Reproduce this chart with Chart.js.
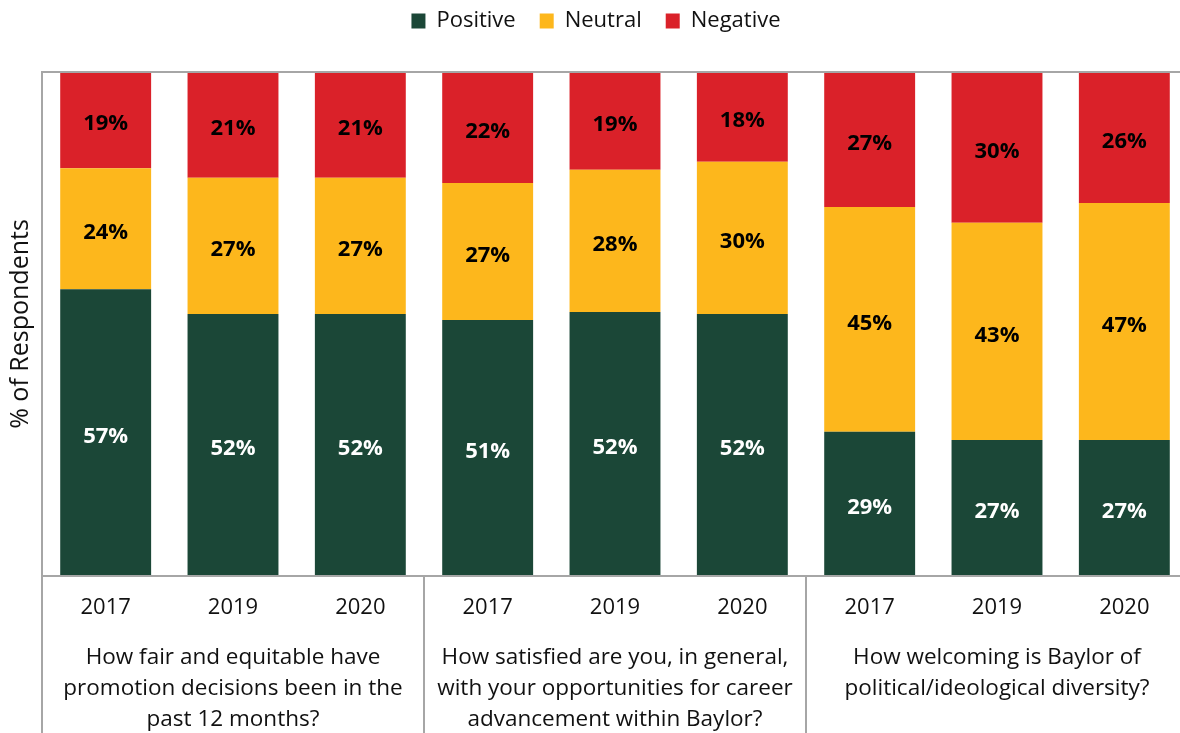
<!DOCTYPE html>
<html>
<head>
<meta charset="utf-8">
<script src="https://cdn.jsdelivr.net/npm/chart.js@4"></script>
<style>
html,body{margin:0;padding:0;overflow:hidden;background:#fff;}
#wrap{width:1190px;height:733px;position:relative;}
</style>
</head>
<body>
<div id="wrap"><canvas id="c"></canvas></div>
<script>
const categories = ['2017','2019','2020','2017','2019','2020','2017','2019','2020'];
const groupLabels = [
  ['How fair and equitable have','promotion decisions been in the','past 12 months?'],
  ['How satisfied are you, in general,','with your opportunities for career','advancement within Baylor?'],
  ['How welcoming is Baylor of','political/ideological diversity?']
];
const positive = [56.9, 52.0, 52.0, 50.8, 52.4, 52.0, 28.6, 27.0, 27.0];
const neutral  = [24.0, 27.0, 27.0, 27.2, 28.2, 30.2, 44.6, 43.1, 47.0];
const negative = [19.1, 21.0, 21.0, 22.0, 19.4, 17.8, 26.8, 29.9, 26.0];
const seriesNames = ['Positive','Neutral','Negative'];

const FONT = '"Open Sans", "Noto Sans", sans-serif';
const LINE = '#A6A6A6';

const legendHeight = {
  id: 'legendHeight',
  beforeInit(chart) {
    const lg = chart.legend;
    const origFit = lg.fit;
    lg.fit = function () { origFit.call(this); this.height = 72; };
    const origDraw = lg.draw;
    lg.draw = function () {
      const ctx = this.ctx;
      ctx.save();
      ctx.translate(2, -14);
      origDraw.apply(this, arguments);
      ctx.restore();
    };
  }
};

const decor = {
  id: 'decor',
  afterDatasetsDraw(chart) {
    const ctx = chart.ctx;
    ctx.save();
    ctx.font = 'bold 22px ' + FONT;
    ctx.textAlign = 'center';
    ctx.textBaseline = 'middle';
    chart.data.datasets.forEach((ds, di) => {
      const meta = chart.getDatasetMeta(di);
      meta.data.forEach((el, i) => {
        const cy = (el.y + el.base) / 2;
        ctx.fillStyle = di === 0 ? '#ffffff' : '#000000';
        ctx.fillText(Math.round(ds.data[i]) + '%', el.x, cy + 4);
      });
    });
    ctx.restore();
  },
  afterDraw(chart) {
    const ctx = chart.ctx, a = chart.chartArea, x = chart.scales.x;
    const H = chart.height;
    ctx.save();
    ctx.strokeStyle = LINE;
    ctx.lineWidth = 2;
    ctx.beginPath();
    ctx.moveTo(a.left, a.top); ctx.lineTo(a.right, a.top);
    ctx.moveTo(a.left, a.bottom); ctx.lineTo(a.right, a.bottom);
    ctx.moveTo(a.left, a.top - 1); ctx.lineTo(a.left, H);
    ctx.moveTo(a.right, a.top - 1); ctx.lineTo(a.right, H);
    [2, 5].forEach(i => {
      const sx = Math.round((x.getPixelForValue(i) + x.getPixelForValue(i + 1)) / 2);
      ctx.moveTo(sx, a.bottom); ctx.lineTo(sx, H);
    });
    ctx.stroke();
    ctx.fillStyle = '#111111';
    ctx.font = '22.5px ' + FONT;
    ctx.textAlign = 'center';
    ctx.textBaseline = 'middle';
    groupLabels.forEach((lines, g) => {
      const cx = (x.getPixelForValue(g * 3) + x.getPixelForValue(g * 3 + 2)) / 2;
      lines.forEach((t, k) => ctx.fillText(t, cx, 658 + k * 31));
    });
    ctx.restore();
  }
};

new Chart(document.getElementById('c'), {
  type: 'bar',
  data: {
    labels: categories,
    datasets: [
      { label: seriesNames[0], data: positive, backgroundColor: '#1B4737' },
      { label: seriesNames[1], data: neutral,  backgroundColor: '#FDB71C' },
      { label: seriesNames[2], data: negative, backgroundColor: '#DA2129' }
    ]
  },
  options: {
    responsive: true,
    maintainAspectRatio: false,
    animation: false,
    layout: { padding: { left: 0, right: 2, top: 0, bottom: 0 } },
    datasets: { bar: { barPercentage: 0.714, categoryPercentage: 1.0, borderWidth: 0 } },
    plugins: {
      legend: {
        position: 'top',
        align: 'center',
        labels: { boxWidth: 14, boxHeight: 15, padding: 24, color: '#111', font: { family: FONT, size: 22 } }
      },
      tooltip: { enabled: false }
    },
    scales: {
      x: {
        stacked: true,
        grid: { display: false, drawTicks: false },
        border: { display: false },
        ticks: { color: '#111', font: { family: FONT, size: 22 }, padding: 19, maxRotation: 0 },
        afterFit(s) { s.height = 157; }
      },
      y: {
        stacked: true,
        min: 0, max: 100,
        grid: { display: false, drawTicks: false },
        border: { display: false },
        ticks: { display: false },
        title: { display: true, text: '% of Respondents', color: '#111', font: { family: FONT, size: 25 }, padding: { top: 6, bottom: 0 } },
        afterFit(s) { s.width = 42; }
      }
    }
  },
  plugins: [legendHeight, decor]
});
</script>
</body>
</html>
